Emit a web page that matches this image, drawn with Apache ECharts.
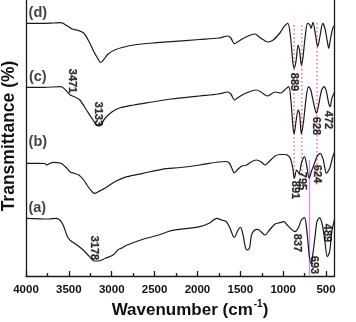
<!DOCTYPE html>
<html><head><meta charset="utf-8">
<script src="https://cdn.jsdelivr.net/npm/echarts@6/dist/echarts.min.js"></script>
<style>html,body{margin:0;padding:0;background:#fff}#c{width:356px;height:322px}</style>
</head><body><div id="c"></div>
<script>
// Wavenumber (cm-1), transmittance (arbitrary offset units)
const traceA = [[4000,57.7],[3736,57],[3644,57.7],[3589,54.3],[3552,47.7],[3516,39.3],[3479,35.3],[3405,31],[3332,26],[3259,19.3],[3204,15],[3149,15],[3075,17.7],[2984,21],[2929,26],[2891,27.7],[2819,31],[2635,36.7],[2451,41],[2305,45.3],[1974,49.3],[1864,52.7],[1773,57.7],[1718,56],[1663,54.3],[1625,48.7],[1570,38.7],[1526,46],[1498,48.7],[1468,41],[1443,29.3],[1424,26],[1394,27.7],[1369,41],[1333,46],[1295,46.7],[1259,44.3],[1211,41],[1160,46],[1094,52],[1039,53.3],[991,54.3],[953,51],[917,47.7],[862,44.3],[826,47.7],[788,56],[752,58.3],[727,47.7],[697,21],[678,12.7],[661,17.7],[631,37.7],[606,54.3],[576,58.3],[543,51],[513,34.3],[485,19.3],[458,24.3],[433,44.3],[403,56],[400,57]];
const traceB = [[4000,112.7],[3846,112.7],[3780,112.5],[3758,111],[3725,112.5],[3681,113.7],[3593,112.7],[3538,109],[3483,104],[3439,102.7],[3383,101],[3328,96],[3273,89],[3218,83.3],[3196,82.7],[3163,84],[3119,86],[3075,88],[2965,94.3],[2822,99.3],[2635,102.7],[2415,106.7],[2195,108.5],[1974,111],[1754,114],[1663,114.5],[1625,112.5],[1600,108],[1572,103.3],[1517,107.7],[1479,110],[1424,111],[1388,113.3],[1314,116],[1259,114.3],[1211,111],[1167,114.3],[1094,120],[1039,121.5],[983,121.5],[953,121],[917,117.7],[888,107.7],[870,97.7],[843,106],[815,102.7],[788,112.7],[752,119.3],[727,111],[697,97.7],[672,104.3],[642,111],[606,119.3],[568,122.7],[532,116],[496,102.7],[458,107.7],[422,119.3],[400,124]];
const traceC = [[4000,188.7],[3791,188.7],[3593,189.3],[3538,186],[3483,181],[3428,179],[3372,176],[3295,166],[3218,156],[3163,150],[3130,151],[3075,158],[2998,164],[2910,168],[2745,171],[2525,174],[2305,177],[1974,180],[1754,182],[1644,184],[1611,182],[1567,176],[1534,178],[1457,182],[1369,185],[1314,186],[1259,184],[1182,180],[1094,184],[1028,183],[983,186],[936,189.3],[909,174.3],[888,151],[873,142],[851,154.3],[826,166],[807,161],[788,142],[763,154.3],[733,177.7],[705,189.3],[678,186],[661,179.3],[631,167.7],[612,162.7],[587,171],[551,186],[521,189.3],[496,184.3],[469,172.7],[451,169.3],[433,177.7],[400,184.3]];
const traceD = [[4000,252.7],[3846,252.7],[3681,253],[3593,253.3],[3516,250],[3461,247],[3405,246],[3328,243],[3262,234],[3207,224],[3152,216],[3130,213.5],[3097,216],[3042,222],[2965,226],[2855,229],[2745,231],[2525,233],[2305,234.3],[1974,236.5],[1754,238],[1644,240],[1611,238],[1567,232.3],[1534,234],[1457,238],[1380,241],[1325,242],[1281,239],[1226,236],[1182,234],[1116,236],[1039,243],[991,249.3],[947,252.7],[917,241],[888,214.3],[873,207.7],[851,214.3],[826,231],[807,224.3],[788,211],[771,217.7],[741,241],[716,252.7],[689,251],[675,247.7],[653,253.7],[623,241],[598,229.3],[568,241],[540,252.7],[513,247.7],[485,234.3],[469,227.7],[447,237.7],[422,247.7],[400,251]];

const xTickValues = [4000,3500,3000,2500,2000,1500,1000,500];
const xMinorTickValues = [3750,3250,2750,2250,1750,1250,750];

const curveNames = ['(a)','(b)','(c)','(d)'];
const curveNameAnchors = [[3868,68.5],[3862,134.3],[3862,199.5],[3862,263.5]];

const peakTexts = ['3178','837','693','489','891','795','624','3471','3133','889','628','472'];
const peakAnchors = [[3204,28],[840,33],[642,11],[485,43],[862,86],[782,95],[606,102],[3461,195],[3158,162],[873,194],[612,150],[474,156]];

// guide lines: [wavenumber, T from, T to]
const dottedGuides = [[873,251,96],[782,251,100],[606,253,90]];
const solidGuide = [693,116,1];

const FONT = "'Liberation Sans', Arial, sans-serif";
const INK = '#1a1a1a';

const chart = echarts.init(document.getElementById('c'), null, {renderer:'canvas'});

const lineSeries = [traceA, traceB, traceC, traceD].map(d => ({
  type:'line', data:d, showSymbol:false, smooth:0.3, silent:true,
  lineStyle:{color:INK, width:1.2}, z:3
}));

const guideSeries = dottedGuides.map(g => ({
  type:'line', data:[[g[0],g[1]],[g[0],g[2]]], showSymbol:false, silent:true,
  lineStyle:{color:'#ff4d6d', width:1.3, type:[1.5,2.5]}, z:2
}));
guideSeries.push({
  type:'line', data:[[solidGuide[0],solidGuide[1]],[solidGuide[0],solidGuide[2]]], showSymbol:false, silent:true,
  lineStyle:{color:'#dd88ee', width:1.3}, z:2
});

const peakSeries = {
  type:'scatter', symbolSize:0, silent:true, z:5,
  data: peakTexts.map((t,i)=>({value:peakAnchors[i], label:{formatter:t}})),
  label:{show:true, position:'inside', rotate:-90, color:'#000', fontFamily:FONT, fontWeight:'bold', fontSize:11,
    textBorderColor:'#000', textBorderWidth:0.3}
};
const nameSeries = {
  type:'scatter', symbolSize:0, silent:true, z:5,
  data: curveNames.map((t,i)=>({value:curveNameAnchors[i], label:{formatter:t}})),
  label:{show:true, position:'inside', color:'#111', fontFamily:FONT, fontWeight:'bold', fontSize:14.5}
};

const axisLineStyle = {color:INK, width:1.3};

chart.setOption({
  animation:false,
  backgroundColor:'#fff',
  grid:{left:26, right:3, top:0, bottom:46, containLabel:false},
  xAxis:[{
    type:'value', inverse:true, min:400, max:4000,
    axisLine:{show:true, onZero:false, lineStyle:axisLineStyle},
    axisTick:{show:true, inside:true, length:5, customValues:xTickValues, lineStyle:axisLineStyle},
    axisLabel:{show:true, customValues:xTickValues, formatter:v=>String(v), margin:8, color:'#111', fontFamily:FONT, fontWeight:'bold', fontSize:11.5},
    splitLine:{show:false}
  },{
    type:'value', inverse:true, min:400, max:4000, position:'bottom',
    axisLine:{show:false},
    axisTick:{show:true, inside:true, length:3, customValues:xMinorTickValues, lineStyle:axisLineStyle},
    axisLabel:{show:false},
    splitLine:{show:false}
  }],
  yAxis:[{
    type:'value', min:0, max:276, position:'left',
    axisLine:{show:true, onZero:false, lineStyle:axisLineStyle},
    axisTick:{show:false}, axisLabel:{show:false}, splitLine:{show:false}
  },{
    type:'value', min:0, max:276, position:'right',
    axisLine:{show:true, onZero:false, lineStyle:axisLineStyle},
    axisTick:{show:false}, axisLabel:{show:false}, splitLine:{show:false}
  }],
  graphic:[{
    type:'text', x:190, y:309, silent:true,
    style:{
      text:'{m|Wavenumber (cm}{s|-1}{m|)}',
      align:'center', verticalAlign:'middle', fill:'#111',
      rich:{
        m:{fontSize:17, fontWeight:'bold', fontFamily:FONT, lineHeight:20, verticalAlign:'bottom', fill:'#111'},
        s:{fontSize:10, fontWeight:'bold', fontFamily:FONT, lineHeight:20, verticalAlign:'top', fill:'#111', padding:[0,0,0,1]}
      }
    }
  },{
    type:'text', x:9, y:136, rotation:Math.PI/2, silent:true,
    style:{text:'Transmittance (%)', align:'center', verticalAlign:'middle', fill:'#111',
      fontSize:17.5, fontWeight:'bold', fontFamily:FONT}
  }],
  series:[...lineSeries, ...guideSeries, peakSeries, nameSeries]
});
</script>
</body></html>
